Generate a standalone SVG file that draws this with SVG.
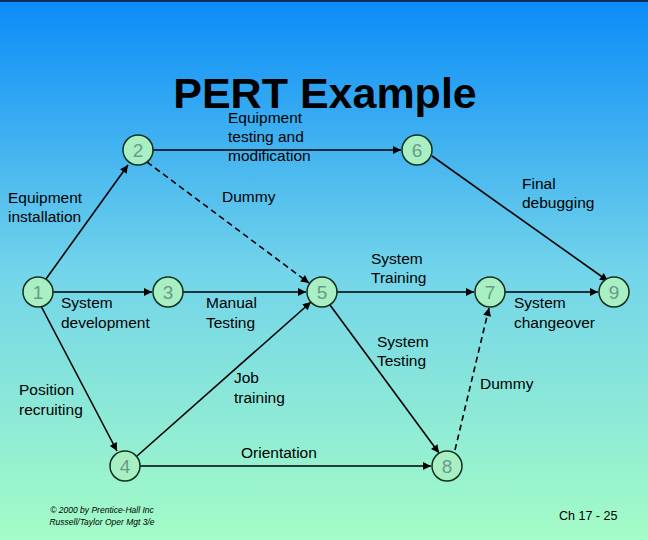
<svg xmlns="http://www.w3.org/2000/svg" width="648" height="540" viewBox="0 0 648 540">
<defs>
<linearGradient id="bg" x1="0" y1="0" x2="0" y2="1">
<stop offset="0" stop-color="#0a8cf8"/>
<stop offset="0.5" stop-color="#72d4ea"/>
<stop offset="1" stop-color="#a4fcc6"/>
</linearGradient>
<marker id="ah" viewBox="0 0 10 10" refX="10" refY="5" markerWidth="10" markerHeight="8" markerUnits="userSpaceOnUse" orient="auto">
<path d="M0,0 L10,5 L0,10 z" fill="#000"/>
</marker>
<style>
.n circle{fill:#a8f0c4;stroke:#10301c;stroke-width:1.5}
.n text{font-family:"Liberation Sans",Arial,sans-serif;font-size:19px;fill:#6a9a86;text-anchor:middle}
.e line{stroke:#000;stroke-width:1.6;marker-end:url(#ah)}
.e line.d{stroke-dasharray:6,4}
.l{font-family:"Liberation Sans",Arial,sans-serif;font-size:15.5px;fill:#000}
</style>
</defs>
<rect width="648" height="540" fill="url(#bg)"/>
<rect x="0" y="0" width="648" height="2" fill="#0a2a60"/>
<text x="325" y="108" text-anchor="middle" font-family="Liberation Sans,Arial,sans-serif" font-size="43" font-weight="bold">PERT Example</text>
<g id="connectors" class="e">
<line x1="46" y1="279" x2="128" y2="165"/>
<line x1="153" y1="150" x2="401" y2="150"/>
<line class="d" x1="147" y1="162" x2="309" y2="283"/>
<line x1="53" y1="292" x2="152" y2="292"/>
<line x1="183" y1="292" x2="306" y2="292"/>
<line x1="41" y1="306" x2="117" y2="451"/>
<line x1="137" y1="456" x2="311" y2="302"/>
<line x1="140" y1="466" x2="431" y2="466"/>
<line x1="337" y1="292" x2="474" y2="292"/>
<line x1="330" y1="305" x2="439" y2="453"/>
<line class="d" x1="455" y1="450" x2="489" y2="308"/>
<line x1="432" y1="156" x2="608" y2="281"/>
<line x1="505" y1="292" x2="598" y2="292"/>
</g>
<g id="node1" class="n"><circle cx="38" cy="292" r="15"/><text x="38" y="299">1</text></g>
<g id="node2" class="n"><circle cx="138" cy="150" r="15"/><text x="138" y="157">2</text></g>
<g id="node3" class="n"><circle cx="168" cy="292" r="15"/><text x="168" y="299">3</text></g>
<g id="node4" class="n"><circle cx="125" cy="466" r="15"/><text x="125" y="473">4</text></g>
<g id="node5" class="n"><circle cx="322" cy="292" r="15"/><text x="322" y="299">5</text></g>
<g id="node6" class="n"><circle cx="417" cy="150" r="15"/><text x="417" y="157">6</text></g>
<g id="node7" class="n"><circle cx="490" cy="292" r="15"/><text x="490" y="299">7</text></g>
<g id="node8" class="n"><circle cx="447" cy="466" r="15"/><text x="447" y="473">8</text></g>
<g id="node9" class="n"><circle cx="614" cy="292" r="15"/><text x="614" y="299">9</text></g>
<g id="labels">
<text class="l" x="228" y="123">Equipment</text>
<text class="l" x="228" y="142">testing and</text>
<text class="l" x="228" y="161">modification</text>
<text class="l" x="8" y="203">Equipment</text>
<text class="l" x="8" y="222">installation</text>
<text class="l" x="222" y="202">Dummy</text>
<text class="l" x="522" y="189">Final</text>
<text class="l" x="522" y="208">debugging</text>
<text class="l" x="371" y="264">System</text>
<text class="l" x="371" y="283">Training</text>
<text class="l" x="61" y="308">System</text>
<text class="l" x="61" y="328">development</text>
<text class="l" x="206" y="308">Manual</text>
<text class="l" x="206" y="328">Testing</text>
<text class="l" x="514" y="308">System</text>
<text class="l" x="514" y="328">changeover</text>
<text class="l" x="377" y="347">System</text>
<text class="l" x="377" y="366">Testing</text>
<text class="l" x="234" y="383">Job</text>
<text class="l" x="234" y="403">training</text>
<text class="l" x="19" y="395">Position</text>
<text class="l" x="19" y="415">recruiting</text>
<text class="l" x="480" y="389">Dummy</text>
<text class="l" x="241" y="458">Orientation</text>
<text x="102" y="513" text-anchor="middle" font-family="Liberation Sans,Arial,sans-serif" font-size="8.5" font-style="italic">© 2000 by Prentice-Hall Inc</text>
<text x="102" y="525" text-anchor="middle" font-family="Liberation Sans,Arial,sans-serif" font-size="8.5" font-style="italic">Russell/Taylor  Oper Mgt 3/e</text>
<text x="559" y="520" font-family="Liberation Sans,Arial,sans-serif" font-size="12.5">Ch 17 - 25</text>
</g>
</svg>
